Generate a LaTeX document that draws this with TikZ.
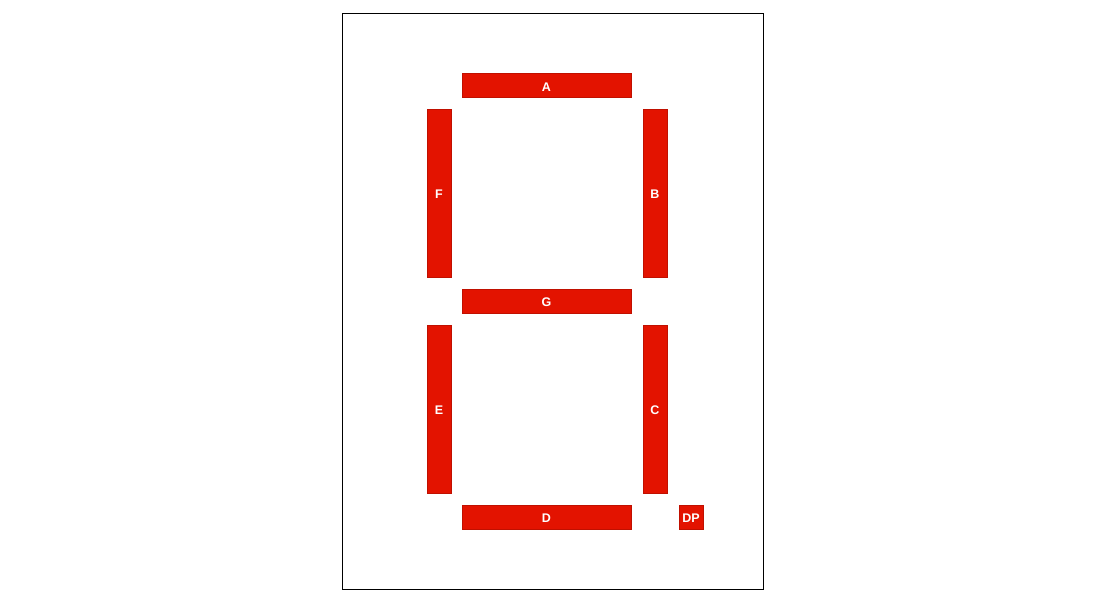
\documentclass[tikz,border=0pt]{standalone}
\usepackage{fontspec}
\setmainfont{Liberation Sans}
\definecolor{segred}{HTML}{E31300}
\definecolor{segedge}{HTML}{C01000}
\begin{document}
\begin{tikzpicture}[x=1pt,y=-1pt,
  seg/.style={draw=segedge,line width=0.6pt,fill=segred,inner sep=0pt},
  lbl/.style={text=white,font=\bfseries\fontsize{12.5}{14}\selectfont,inner sep=0pt,anchor=center}]
\useasboundingbox (0,0) rectangle (1107,601);
\draw[line width=1pt] (342.5,13.5) rectangle (763.5,589.5);
\node[seg,minimum width=169pt,minimum height=24pt] (A) at (546.5,85.5) {};
\node[seg,minimum width=24pt,minimum height=168pt] (F) at (439,193) {};
\node[seg,minimum width=24pt,minimum height=168pt] (B) at (655,193) {};
\node[seg,minimum width=169pt,minimum height=24pt] (G) at (546.5,301) {};
\node[seg,minimum width=24pt,minimum height=168pt] (E) at (439,409) {};
\node[seg,minimum width=24pt,minimum height=168pt] (C) at (655,409) {};
\node[seg,minimum width=169pt,minimum height=24pt] (D) at (546.5,517) {};
\node[seg,minimum width=24pt,minimum height=24pt] (DP) at (691,517) {};
\foreach \n in {A,F,B,G,E,C,D,DP}
  \node[lbl] (l\n) at ([yshift=-1.5pt]\n.center) {\n};
\end{tikzpicture}
\end{document}
